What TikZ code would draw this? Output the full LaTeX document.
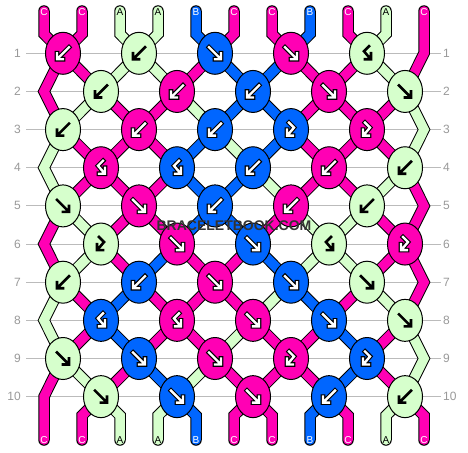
\documentclass[tikz,border=0pt]{standalone}
\usepackage{fontspec}
\setmainfont{Liberation Sans}
\usetikzlibrary{shapes.geometric, backgrounds}

\definecolor{threadA}{HTML}{D6FFCC}
\definecolor{threadB}{HTML}{0066FF}
\definecolor{threadC}{HTML}{FF00B4}
\definecolor{rulegray}{HTML}{BBBBBB}
\definecolor{numgray}{HTML}{999999}

\begin{document}
\begin{tikzpicture}[x=1pt, y=-1pt, font=\fontsize{12}{14}\selectfont]
    \tikzset{
      knot/.style={ellipse, draw=black, line width=1pt, minimum width=35pt, minimum height=42pt, inner sep=0pt},
      strand/.style={line cap=round, line join=miter},
      gridline/.style={draw=rulegray, line width=1pt},
      rownum/.style={text=numgray, inner xsep=5pt, inner ysep=1pt},
      tag/.style={font=\fontsize{10}{12}\selectfont, inner sep=0pt},
      tag A/.style={text=black}, tag B/.style={text=white}, tag C/.style={text=white},
      glyph/.style={},
      glyph line/.style={line cap=rect, line join=miter},
      glyph back A/.style={glyph line, draw=black, line width=2.6pt},
      glyph front A/.style={draw=none},
      glyph back B/.style={glyph line, draw=black, line width=4.6pt},
      glyph front B/.style={glyph line, draw=white, line width=2.4pt},
      glyph back C/.style={glyph back B},
      glyph front C/.style={glyph front B},
      sitemark/.style={font=\fontsize{14}{16}\selectfont\bfseries, text=black!80},
      pics/arrf/.style={code={\draw[glyph] (-6,-6) -- (4.3,4.3) (0,6) -- (6,6) -- (6,0);}},
      pics/arrb/.style={code={\draw[glyph] (6,-6) -- (-4.3,4.3) (0,6) -- (-6,6) -- (-6,0);}},
      pics/arrfb/.style={code={\draw[glyph] (-2,-7) -- (3,-2) -- (-2.6,4.6) (2,6) -- (-4,6) -- (-4,0);}},
      pics/arrbf/.style={code={\draw[glyph] (2,-7) -- (-3,-2) -- (2.6,4.6) (-2,6) -- (4,6) -- (4,0);}},
    }
    \useasboundingbox (0,0) rectangle (468,452);

    % row numbers and the edge turning points
    \foreach \rw in {1,...,10} {
      \pgfmathsetmacro\yy{53.3+38.15*(\rw-1)}
      \pgfmathsetmacro\xx{mod(\rw,2)==0 ? 44 : 424}
      \node[rownum, anchor=east] (num-l-\rw) at (26,\yy) {\rw};
      \node[rownum, anchor=west, inner xsep=2pt] (num-r-\rw) at (441,\yy) {\rw};
      \coordinate (edge-\rw) at (\xx,\yy);
    }

    % knots, row by row: colour/kind
    \foreach \rw/\knots in {
      1/{C/b,A/b,B/f,C/f,A/bf},
      2/{A/b,C/b,B/b,C/f,A/f},
      3/{A/b,C/b,B/b,B/fb,C/fb},
      4/{C/bf,B/bf,B/b,C/b,A/b},
      5/{A/f,C/f,B/b,C/b,A/b},
      6/{A/fb,C/f,B/f,A/bf,C/fb},
      7/{A/b,B/b,C/f,B/f,A/f},
      8/{B/bf,C/bf,C/f,B/f,A/f},
      9/{A/f,B/f,C/f,C/fb,B/fb},
      10/{A/f,B/f,C/f,B/b,A/b}} {
      \pgfmathsetmacro\yy{53.3+38.15*(\rw-1)}
      \pgfmathsetmacro\xo{mod(\rw,2)==1 ? 63 : 101}
      \foreach \col/\kind [count=\kn from 0] in \knots {
        \node[knot, fill=thread\col] (k-\rw-\kn) at ({\xo+76*\kn},\yy) {};
        \pic[glyph/.style={glyph back \col}] at (k-\rw-\kn) {arr\kind};
        \pic[glyph/.style={glyph front \col}] at (k-\rw-\kn) {arr\kind};
      }
    }

    % thread ends
    \foreach \col [count=\pos from 0] in {C,C,A,A,B,C,C,B,C,A,C} {
      \node[tag, tag \col] (in-\pos) at ({44+38*\pos},12) {\col};
      \node[tag, tag \col] (out-\pos) at ({44+38*\pos},440) {\col};
      \coordinate (head-\pos) at ({44+38*\pos},11);
      \coordinate (headbend-\pos) at ({44+38*\pos},34);
      \coordinate (footbend-\pos) at ({44+38*\pos},415.6);
      \coordinate (foot-\pos) at ({44+38*\pos},440);
    }

    \begin{scope}[on background layer]
      \fill[white] (0,0) rectangle (468,452);
      \foreach \rw in {1,...,10} \draw[gridline] (num-l-\rw) -- (num-r-\rw);
      % outline first, then the thread colour
      \foreach \lw/\mix in {11.5pt/0, 9.5pt/100} {
        \foreach \col [count=\pos from 0] in {C,C,A,A,B,C,C,B,C,A} {
          \pgfmathtruncatemacro\ka{floor(\pos/2)}
          \draw[strand, line width=\lw, draw=thread\col!\mix!black] (head-\pos) -- (headbend-\pos) -- (k-1-\ka.center);
        }
        \foreach \rw/\state in {
          1/{C,A,A,C,B,B,C,C,A},
          2/{A,C,C,A,B,B,C,C,C},
          3/{C,C,C,B,A,B,C,C,C},
          4/{C,C,C,B,B,A,C,C,A},
          5/{A,C,C,B,B,C,A,A,C},
          6/{A,C,B,C,C,B,A,A,C},
          7/{C,B,C,C,C,A,B,C,A},
          8/{C,B,C,C,A,C,C,B,C},
          9/{A,C,B,A,C,C,C,B,C}} {
          \pgfmathtruncatemacro\nx{\rw+1}
          \foreach \col [count=\pos from 1] in \state {
            \pgfmathtruncatemacro\ka{mod(\rw,2)==1 ? floor(\pos/2) : floor((\pos-1)/2)}
            \pgfmathtruncatemacro\kb{mod(\rw,2)==0 ? floor(\pos/2) : floor((\pos-1)/2)}
            \draw[strand, line width=\lw, draw=thread\col!\mix!black] (k-\rw-\ka.center) -- (k-\nx-\kb.center);
          }
        }
        \foreach \col [count=\pos from 1] in {C,A,A,B,C,C,B,C,A,C} {
          \pgfmathtruncatemacro\ka{floor((\pos-1)/2)}
          \draw[strand, line width=\lw, draw=thread\col!\mix!black] (k-10-\ka.center) -- (footbend-\pos) -- (foot-\pos);
        }
        % outer threads turning at the edges
        \foreach \src/\bend/\dst/\col in {head-10/edge-1/k-2-4/C, k-1-0/edge-2/k-3-0/C,
            k-2-4/edge-3/k-4-4/A, k-3-0/edge-4/k-5-0/A, k-4-4/edge-5/k-6-4/C, k-5-0/edge-6/k-7-0/C,
            k-6-4/edge-7/k-8-4/C, k-7-0/edge-8/k-9-0/A, k-8-4/edge-9/k-10-4/A, k-9-0/edge-10/foot-0/C}
          \draw[strand, line width=\lw, draw=thread\col!\mix!black] (\src.center) -- (\bend) -- (\dst.center);
      }
    \end{scope}

    \node[sitemark] (watermark) at (234,226) {BRACELETBOOK.COM};
\end{tikzpicture}
\end{document}
